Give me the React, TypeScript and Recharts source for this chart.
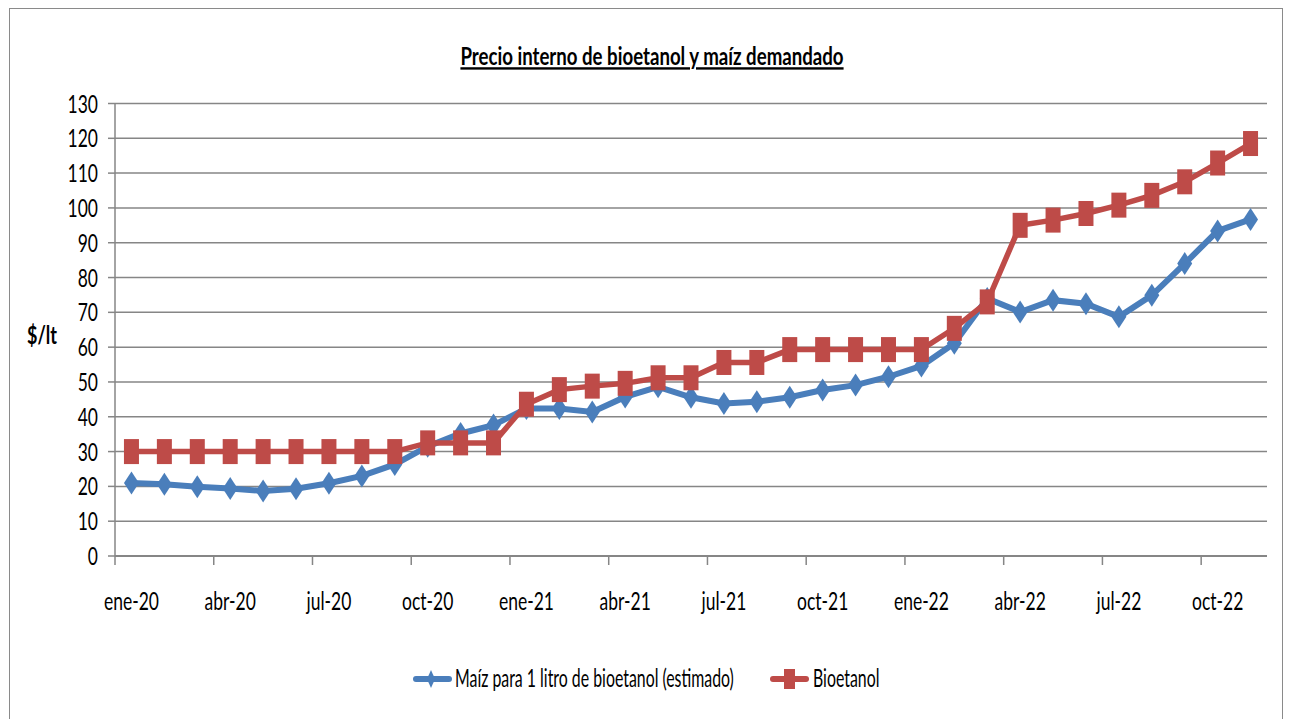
import React from 'react';
import { LineChart, Line, XAxis, YAxis, CartesianGrid } from 'recharts';

const months = [
  'ene-20', 'feb-20', 'mar-20', 'abr-20', 'may-20', 'jun-20', 'jul-20', 'ago-20', 'sep-20', 'oct-20', 'nov-20', 'dic-20',
  'ene-21', 'feb-21', 'mar-21', 'abr-21', 'may-21', 'jun-21', 'jul-21', 'ago-21', 'sep-21', 'oct-21', 'nov-21', 'dic-21',
  'ene-22', 'feb-22', 'mar-22', 'abr-22', 'may-22', 'jun-22', 'jul-22', 'ago-22', 'sep-22', 'oct-22', 'nov-22',
];

const maiz = [
  21.0, 20.6, 19.9, 19.4, 18.7, 19.3, 20.9, 23.0, 26.3, 31.5, 35.2, 37.6,
  42.4, 42.4, 41.4, 45.7, 48.6, 45.6, 43.8, 44.3, 45.6, 47.7, 49.1, 51.5,
  54.6, 61.1, 74.0, 70.1, 73.5, 72.5, 68.7, 74.9, 84.0, 93.4, 96.7,
];

const bioetanol = [
  30, 30, 30, 30, 30, 30, 30, 30, 30, 32.5, 32.5, 32.5,
  43.6, 47.8, 48.8, 49.6, 51.2, 51.2, 55.6, 55.6, 59.3, 59.3, 59.3, 59.3,
  59.3, 65.4, 73.0, 95.0, 96.5, 98.4, 100.8, 103.6, 107.5, 112.9, 118.5,
];

const yTicks = [0, 10, 20, 30, 40, 50, 60, 70, 80, 90, 100, 110, 120, 130];
const seriesNames = ['Maíz para 1 litro de bioetanol (estimado)', 'Bioetanol'];
const title = 'Precio interno de bioetanol y maíz demandado';
const yLabel = '$/lt';

const data = months.map((m, i) => ({ month: m, maiz: maiz[i], bio: bioetanol[i] }));

const FONT = 'Lato, "Open Sans", sans-serif';
const BLUE = '#4A7EBB';
const RED = '#BE4B48';
const GRID = '#868686';
const TICK_SIZE = 9;
const TICK_MARGIN = 20;
const FS = 25;
const SX = 0.7;
const SX_LEGEND = 0.635;

const Diamond = (props: any) => {
  const { cx, cy, index } = props;
  if (cx == null || cy == null) return <g key={`d${index}`} />;
  return (
    <path
      key={`d${index}`}
      d={`M${cx},${cy - 11.5}L${cx + 7.5},${cy}L${cx},${cy + 11.5}L${cx - 7.5},${cy}Z`}
      fill={BLUE}
    />
  );
};

const Square = (props: any) => {
  const { cx, cy, index } = props;
  if (cx == null || cy == null) return <g key={`s${index}`} />;
  return <rect key={`s${index}`} x={cx - 7.5} y={cy - 12.5} width={15} height={25} fill={RED} />;
};

const XTick = (props: any) => {
  const { x, y, payload } = props;
  const half = payload && payload.offset ? payload.offset : 1152 / 70;
  const axisY = y - TICK_SIZE - TICK_MARGIN;
  return (
    <g>
      <line x1={x - half} x2={x - half} y1={axisY} y2={axisY + TICK_SIZE} stroke={GRID} strokeWidth={1.5} />
      <text
        transform={`translate(${x},${axisY + 54}) scale(${SX},1)`}
        textAnchor="middle"
        fill="#000"
        fontSize={FS}
        fontFamily={FONT}
      >
        {payload.value}
      </text>
    </g>
  );
};

const YTick = (props: any) => {
  const { x, y, payload } = props;
  return (
    <text
      transform={`translate(${x},${y}) scale(${SX},1)`}
      dy="0.36em"
      textAnchor="end"
      fill="#000"
      fontSize={FS}
      fontFamily={FONT}
    >
      {payload.value}
    </text>
  );
};

export default function App() {
  return (
    <div style={{ position: 'absolute', left: 0, top: 0, width: 1290, height: 719, background: '#fff', overflow: 'hidden' }}>
      <div
        style={{
          position: 'absolute', left: 9, top: 8, width: 1274, height: 760,
          border: '1.5px solid #8a8a8a', boxSizing: 'border-box',
        }}
      />
      <div style={{ position: 'absolute', left: 0, top: 0 }}>
        <LineChart width={1290} height={719} data={data} margin={{ top: 103.5, right: 23, bottom: 123, left: 55 }}>
          <CartesianGrid vertical={false} stroke={GRID} strokeWidth={1.5} />
          <XAxis
            dataKey="month"
            scale="band"
            interval={2}
            height={40}
            tickLine={false}
            tickSize={TICK_SIZE}
            tickMargin={TICK_MARGIN}
            axisLine={{ stroke: GRID, strokeWidth: 2 }}
            tick={<XTick />}
          />
          <YAxis
            width={60}
            domain={[0, 130]}
            ticks={yTicks}
            interval={0}
            tickSize={7}
            tickMargin={10}
            axisLine={{ stroke: GRID, strokeWidth: 1.5 }}
            tickLine={{ stroke: GRID, strokeWidth: 1.5 }}
            tick={<YTick />}
          />
          <Line
            dataKey="maiz"
            name={seriesNames[0]}
            stroke={BLUE}
            strokeWidth={6}
            dot={Diamond}
            activeDot={false}
            isAnimationActive={false}
          />
          <Line
            dataKey="bio"
            name={seriesNames[1]}
            stroke={RED}
            strokeWidth={5.5}
            dot={Square}
            activeDot={false}
            isAnimationActive={false}
          />
        </LineChart>
      </div>
      <svg width={1290} height={719} style={{ position: 'absolute', left: 0, top: 0, pointerEvents: 'none' }}>
        <text
          transform={`translate(652,65) scale(0.777,1)`}
          textAnchor="middle"
          fontFamily={FONT}
          fontWeight="bold"
          fontSize={24}
          fill="#000"
          style={{ textDecoration: 'underline' }}
        >
          {title}
        </text>
        <text
          transform={`translate(27,344) scale(0.72,1)`}
          fontFamily={FONT}
          fontWeight="bold"
          fontSize={25}
          fill="#000"
        >
          {yLabel}
        </text>
        <line x1={416} x2={449} y1={679} y2={679} stroke={BLUE} strokeWidth={6} strokeLinecap="round" />
        <path d="M431,670L435,679L431,688L427,679Z" fill={BLUE} />
        <text transform={`translate(455,687) scale(${SX_LEGEND},1)`} fontFamily={FONT} fontSize={FS} fill="#000">
          {seriesNames[0]}
        </text>
        <line x1={773} x2={806} y1={679} y2={679} stroke={RED} strokeWidth={6} strokeLinecap="round" />
        <rect x={784} y={669} width={11} height={20} fill={RED} />
        <text transform={`translate(813,687) scale(${SX_LEGEND},1)`} fontFamily={FONT} fontSize={FS} fill="#000">
          {seriesNames[1]}
        </text>
      </svg>
    </div>
  );
}
